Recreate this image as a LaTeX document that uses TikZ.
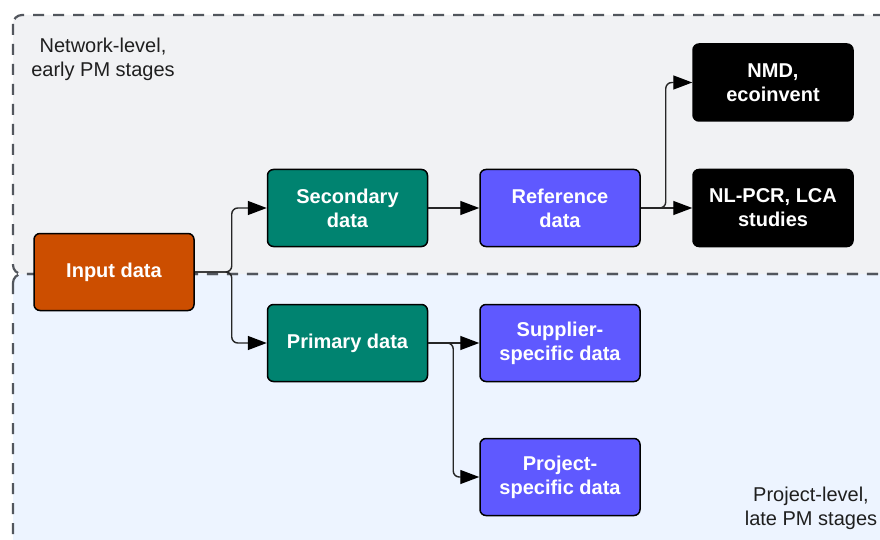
\documentclass[tikz,border=0pt]{standalone}
\usepackage{fontspec}
\setmainfont{Liberation Sans}
\usetikzlibrary{arrows.meta}
\definecolor{topfill}{HTML}{F1F2F4}
\definecolor{botfill}{HTML}{EDF4FF}
\definecolor{zoneline}{HTML}{52565D}
\definecolor{orangebox}{HTML}{CC4E00}
\definecolor{tealbox}{HTML}{008370}
\definecolor{purplebox}{HTML}{5F59FF}
\definecolor{conncol}{HTML}{262626}
\definecolor{labelcol}{HTML}{1F1F1F}
\tikzset{
  box/.style={draw=black, line width=1.5pt, rounded corners=6pt, minimum width=160pt, minimum height=77pt,
    align=center, text=white, font=\bfseries\fontsize{20}{24}\selectfont, inner sep=2pt},
  inbox/.style={box, fill=orangebox},
  tealstyle/.style={box, fill=tealbox},
  purplestyle/.style={box, fill=purplebox},
  blackstyle/.style={box, fill=black},
  conn/.style={draw=conncol, line width=1.4pt, rounded corners=6pt, -{Triangle[length=19pt,width=14pt,color=black]}},
  zone/.style={draw=zoneline, line width=2.2pt, dash pattern=on 11pt off 9pt, rounded corners=9pt},
  zonelabel/.style={align=center, text=labelcol, font=\fontsize{20}{24}\selectfont}
}
\begin{document}
\begin{tikzpicture}[x=1pt,y=-1pt]
\useasboundingbox (0,0) rectangle (880,540);
\clip (0,0) rectangle (880,540);
\fill[white] (0,0) rectangle (880,540);
% zones
\fill[topfill, rounded corners=9pt] (13,15) rectangle (920,274);
\fill[botfill, rounded corners=9pt] (13,274) rectangle (920,580);
\draw[zone] (13,274) rectangle (920,580);
\draw[zone] (13,15) rectangle (920,274);
\node[zonelabel] (netlbl) at (103,59) {Network-level,\\early PM stages};
\node[zonelabel] (projlbl) at (811,508) {Project-level,\\late PM stages};
% nodes
\node[inbox] (in) at (114,272) {Input data};
\node[tealstyle] (sec) at (347.5,208) {Secondary\\data};
\node[tealstyle] (pri) at (347.5,343) {Primary data};
\node[purplestyle] (ref) at (560,208) {Reference\\data};
\node[purplestyle] (sup) at (560,343) {Supplier-\\specific data};
\node[purplestyle] (proj) at (560,477) {Project-\\specific data};
\node[blackstyle] (nmd) at (773,82.5) {NMD,\\ecoinvent};
\node[blackstyle] (nl) at (773,208) {NL-PCR, LCA\\studies};
% connectors
\draw[conn] (in.east) -- ([xshift=37pt]in.east) |- (sec.west);
\draw[conn] (in.east) -- ([xshift=37pt]in.east) |- (pri.west);
\draw[conn] (sec.east) -- (ref.west);
\draw[conn] (ref.east) -- (nl.west);
\draw[conn] (ref.east) -- ([xshift=25pt]ref.east) |- (nmd.west);
\draw[conn] (pri.east) -- (sup.west);
\draw[conn] (pri.east) -- ([xshift=25pt]pri.east) |- (proj.west);
\end{tikzpicture}
\end{document}
